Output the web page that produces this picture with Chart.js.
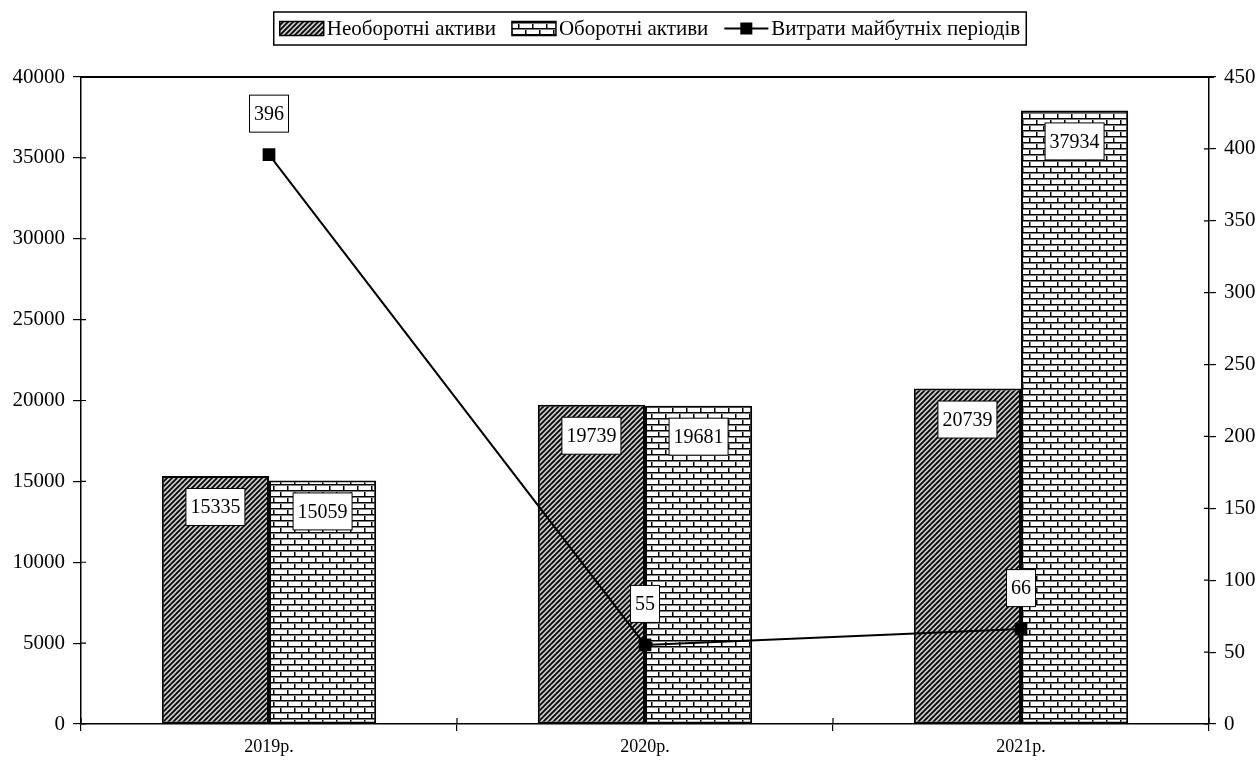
<!DOCTYPE html>
<html lang="uk">
<head>
<meta charset="utf-8">
<title>Активи підприємства</title>
<script src="https://cdn.jsdelivr.net/npm/chart.js@4.4.0/dist/chart.umd.min.js"></script>
<style>
    html, body { margin: 0; padding: 0; background: #fff; }
    #wrap { width: 1259px; height: 767px; }
</style>
</head>
<body>
<div id="wrap"><canvas id="assetsChart"></canvas></div>
<script>
const years = ['2019р.', '2020р.', '2021р.'];
const fixedAssets = [15335, 19739, 20739];
const currentAssets = [15059, 19681, 37934];
const deferredExpenses = [396, 55, 66];
const leftTicks = [0, 5000, 10000, 15000, 20000, 25000, 30000, 35000, 40000];
const rightTicks = [0, 50, 100, 150, 200, 250, 300, 350, 400, 450];
const seriesNames = ['Необоротні активи', 'Оборотні активи', 'Витрати майбутніх періодів'];

const SERIF = '"Liberation Serif", "Times New Roman", serif';

// diagonal hatching for the first bar series
function hatchPattern(ctx) {
    const c = document.createElement('canvas');
    c.width = 5; c.height = 5;
    const g = c.getContext('2d');
    g.fillStyle = '#c8c8c8';
    g.fillRect(0, 0, 5, 5);
    g.strokeStyle = '#000';
    g.lineWidth = 1.7;
    g.beginPath();
    g.moveTo(-1, 6); g.lineTo(6, -1);
    g.moveTo(-4, 4); g.lineTo(4, -4);
    g.moveTo(1, 9); g.lineTo(9, 1);
    g.stroke();
    return ctx.createPattern(c, 'repeat');
}

// brick wall for the second bar series
function brickPattern(ctx) {
    const c = document.createElement('canvas');
    c.width = 14; c.height = 12;
    const g = c.getContext('2d');
    g.fillStyle = '#fff';
    g.fillRect(0, 0, 14, 12);
    g.fillStyle = '#000';
    g.fillRect(0, 4, 14, 1.5);
    g.fillRect(0, 10, 14, 1.5);
    g.fillRect(0, 0, 1.5, 4);
    g.fillRect(7, 6, 1.5, 4);
    return ctx.createPattern(c, 'repeat');
}

function fixedTicks(list) {
    return scale => { scale.ticks = list.map(v => ({ value: v })); };
}

const plainNumber = v => String(v);

// boxed legend above the plot
const boxLegend = {
    id: 'boxLegend',
    afterDraw(chart) {
        const ctx = chart.ctx;
        const area = chart.chartArea;
        const sw = 44, gap = 3, itemGap = 16, pad = 6;
        ctx.save();
        ctx.font = '21px ' + SERIF;
        const widths = seriesNames.map(n => ctx.measureText(n).width);
        const total = widths.reduce((a, b) => a + b, 0) + seriesNames.length * (sw + gap) + itemGap * (seriesNames.length - 1);
        const left = (area.left + area.right) / 2 - total / 2 - pad + 5;
        const top = 12, h = 33, cy = top + h / 2;
        ctx.fillStyle = '#fff';
        ctx.fillRect(left, top, total + pad * 2, h);
        ctx.strokeStyle = '#000';
        ctx.lineWidth = 1.5;
        ctx.strokeRect(left, top, total + pad * 2, h);

        let x = left + pad;
        chart.data.datasets.forEach((ds, i) => {
            if (ds.type === 'line') {
                ctx.lineWidth = 2;
                ctx.beginPath();
                ctx.moveTo(x, cy); ctx.lineTo(x + sw, cy);
                ctx.stroke();
                ctx.fillStyle = '#000';
                ctx.fillRect(x + sw / 2 - 6, cy - 6, 12, 12);
            } else {
                ctx.fillStyle = ds.backgroundColor;
                ctx.fillRect(x, cy - 7, sw, 14);
                ctx.lineWidth = 1.5;
                ctx.strokeRect(x, cy - 7, sw, 14);
            }
            x += sw + gap;
            ctx.fillStyle = '#000';
            ctx.textAlign = 'left';
            ctx.textBaseline = 'middle';
            ctx.fillText(seriesNames[i], x, cy + 1);
            x += widths[i] + itemGap;
        });
        ctx.restore();
    }
};

// top border of the plot and the inner half of the cross ticks
const plotFrame = {
    id: 'plotFrame',
    beforeDatasetsDraw(chart) {
        const ctx = chart.ctx;
        const a = chart.chartArea;
        ctx.save();
        ctx.strokeStyle = '#000';
        ctx.lineWidth = 2;
        ctx.beginPath();
        ctx.moveTo(a.left, a.top); ctx.lineTo(a.right + 5, a.top);
        ctx.stroke();
        ctx.lineWidth = 1.2;
        ctx.beginPath();
        const ys = chart.scales.y, y1 = chart.scales.y1;
        ys.ticks.forEach((t, i) => {
            const p = ys.getPixelForTick(i);
            ctx.moveTo(a.left, p); ctx.lineTo(a.left + 5, p);
        });
        y1.ticks.forEach((t, i) => {
            const p = y1.getPixelForTick(i);
            ctx.moveTo(a.right, p); ctx.lineTo(a.right - 5, p);
        });
        const xs = chart.scales.x;
        for (let i = 0; i <= years.length; i++) {
            const p = xs.left + (xs.right - xs.left) * i / years.length;
            ctx.moveTo(p, a.bottom); ctx.lineTo(p, a.bottom - 6);
        }
        ctx.stroke();
        ctx.restore();
    }
};

// white boxed value labels
const valueLabels = {
    id: 'valueLabels',
    afterDatasetsDraw(chart) {
        const ctx = chart.ctx;
        ctx.save();
        ctx.font = '20px ' + SERIF;
        ctx.textAlign = 'center';
        ctx.textBaseline = 'middle';
        chart.data.datasets.forEach((ds, i) => {
            const meta = chart.getDatasetMeta(i);
            meta.data.forEach((el, j) => {
                const text = String(ds.data[j]);
                const w = ctx.measureText(text).width + 9;
                const h = 37;
                const cy = ds.type === 'line' ? el.y - 41 : el.y + 31;
                ctx.fillStyle = '#fff';
                ctx.fillRect(el.x - w / 2, cy - h / 2, w, h);
                ctx.strokeStyle = '#000';
                ctx.lineWidth = 1;
                ctx.strokeRect(el.x - w / 2, cy - h / 2, w, h);
                ctx.fillStyle = '#000';
                ctx.fillText(text, el.x, cy + 1);
            });
        });
        ctx.restore();
    }
};

function renderChart() {
    const canvas = document.getElementById('assetsChart');
    const ctx = canvas.getContext('2d');

    new Chart(canvas, {
        data: {
            labels: years,
            datasets: [
                {
                    type: 'bar',
                    label: seriesNames[0],
                    data: fixedAssets,
                    backgroundColor: hatchPattern(ctx),
                    borderColor: '#000',
                    borderWidth: 2,
                    borderSkipped: false,
                    categoryPercentage: 0.57,
                    barPercentage: 1.0,
                    yAxisID: 'y',
                    order: 2
                },
                {
                    type: 'bar',
                    label: seriesNames[1],
                    data: currentAssets,
                    backgroundColor: brickPattern(ctx),
                    borderColor: '#000',
                    borderWidth: 2,
                    borderSkipped: false,
                    categoryPercentage: 0.57,
                    barPercentage: 1.0,
                    yAxisID: 'y',
                    order: 2
                },
                {
                    type: 'line',
                    label: seriesNames[2],
                    data: deferredExpenses,
                    borderColor: '#000',
                    borderWidth: 2,
                    backgroundColor: '#000',
                    pointStyle: 'rect',
                    pointRadius: 9,
                    pointBorderWidth: 0,
                    tension: 0,
                    yAxisID: 'y1',
                    order: 1
                }
            ]
        },
        options: {
            responsive: true,
            maintainAspectRatio: false,
            animation: false,
            layout: { padding: { top: 77, left: 0, right: 0, bottom: 0 } },
            plugins: {
                legend: { display: false },
                tooltip: { enabled: false }
            },
            scales: {
                x: {
                    offset: true,
                    grid: { offset: true, drawOnChartArea: false, color: '#000', tickLength: 7, lineWidth: 1.2 },
                    border: { color: '#000', width: 1.5 },
                    ticks: { color: '#000', font: { family: SERIF, size: 18 }, padding: 5 },
                    afterFit(scale) { scale.height = 43; }
                },
                y: {
                    position: 'left',
                    min: 0,
                    max: 40000,
                    afterBuildTicks: fixedTicks(leftTicks),
                    grid: { drawOnChartArea: false, color: '#000', tickLength: 8, lineWidth: 1.2 },
                    border: { color: '#000', width: 1.5 },
                    ticks: { color: '#000', font: { family: SERIF, size: 21 }, padding: 8, callback: plainNumber },
                    afterFit(scale) { scale.width = 81; }
                },
                y1: {
                    position: 'right',
                    min: 0,
                    max: 450,
                    afterBuildTicks: fixedTicks(rightTicks),
                    grid: { drawOnChartArea: false, color: '#000', tickLength: 7, lineWidth: 1.2 },
                    border: { color: '#000', width: 1.5 },
                    ticks: { color: '#000', font: { family: SERIF, size: 21 }, padding: 8, callback: plainNumber },
                    afterFit(scale) { scale.width = 50; }
                }
            }
        },
        plugins: [plotFrame, valueLabels, boxLegend]
    });
}

document.addEventListener('DOMContentLoaded', renderChart);
</script>
</body>
</html>
